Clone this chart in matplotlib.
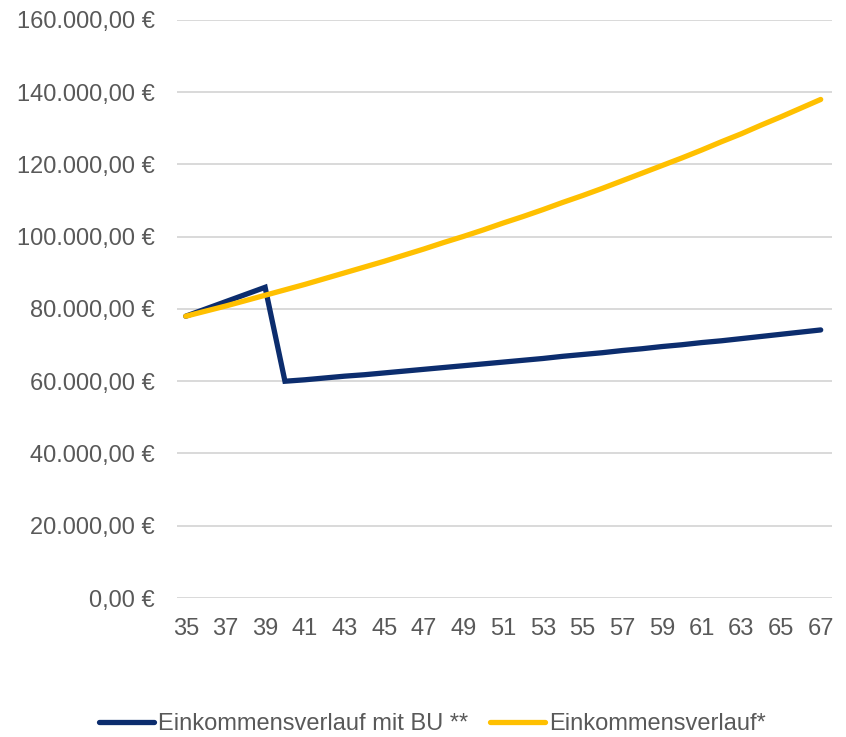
import matplotlib
matplotlib.use('Agg')
import matplotlib.pyplot as plt

plt.rcParams['font.family'] = ['Liberation Sans', 'DejaVu Sans']

# data
alter = list(range(35, 68))
mit_bu = [78000, 80000, 82000, 84000, 86000, 60000, 60400, 60900, 61400, 61800,
          62300, 62800, 63300, 63800, 64300, 64800, 65300, 65800, 66300, 66900,
          67400, 67900, 68500, 69000, 69600, 70100, 70700, 71200, 71800, 72400,
          73000, 73600, 74200]
ohne_bu = [78000, 79400, 80800, 82300, 83800, 85300, 86800, 88400, 90000, 91600,
           93200, 94900, 96600, 98400, 100100, 101900, 103800, 105600, 107500, 109500,
           111400, 113400, 115500, 117600, 119700, 121800, 124000, 126300, 128500, 130900,
           133200, 135600, 138000]
y_ticks = [0, 20000, 40000, 60000, 80000, 100000, 120000, 140000, 160000]
y_labels = ['0,00 €', '20.000,00 €', '40.000,00 €', '60.000,00 €', '80.000,00 €',
            '100.000,00 €', '120.000,00 €', '140.000,00 €', '160.000,00 €']
x_ticks = list(range(35, 68, 2))

fig = plt.figure(figsize=(8.46, 7.37), dpi=100)
ax = fig.add_axes([0.209, 0.1886, 0.774, 0.7843])

ax.plot(alter, mit_bu, color='#0c2d6e', lw=3.8, solid_capstyle='round',
        solid_joinstyle='miter', label='Einkommensverlauf mit BU **', zorder=3)
ax.plot(alter, ohne_bu, color='#ffc000', lw=3.8, solid_capstyle='round',
        label='Einkommensverlauf*', zorder=4)

ax.set_xlim(34.55, 67.55)
ax.set_ylim(0, 160000)
ax.set_yticks(y_ticks)
ax.set_yticklabels(y_labels)
ax.set_xticks(x_ticks)
ax.set_xticklabels([str(x) for x in x_ticks])

for s in ax.spines.values():
    s.set_visible(False)
ax.grid(axis='y', color='#d9d9d9', lw=1.4, zorder=0)
ax.set_axisbelow(True)
ax.tick_params(axis='both', length=0, labelsize=17, labelcolor='#595959')
ax.tick_params(axis='y', pad=16)
ax.tick_params(axis='x', pad=14.5)

fig.legend(loc='center', bbox_to_anchor=(0.511, 0.017), ncol=2, frameon=False,
           fontsize=17, handlelength=2.33, handletextpad=0.17, columnspacing=0.93,
           labelcolor='#595959', borderpad=0)

plt.savefig('out.png', dpi=100)
